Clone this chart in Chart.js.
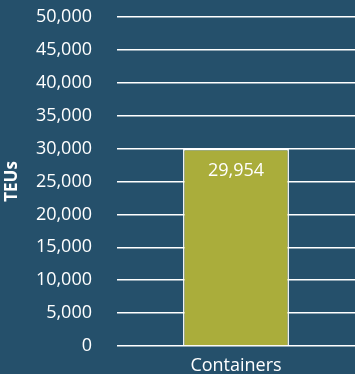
<!DOCTYPE html>
<html>
<head>
<meta charset="utf-8">
<script src="https://cdn.jsdelivr.net/npm/chart.js@4"></script>
<style>
  html, body { margin: 0; padding: 0; background: #25506b; }
  canvas { display: block; }
</style>
</head>
<body>
<canvas id="myChart" width="355" height="374"></canvas>
<script>
var categories = ["Containers"];
var teus = [29954];
var yTicks = [0, 5000, 10000, 15000, 20000, 25000, 30000, 35000, 40000, 45000, 50000];

function fmt(v) {
    return v.toLocaleString('en-US');
}

// write the value inside the top of each bar
var barLabels = {
    id: 'barLabels',
    afterDatasetsDraw: function(chart) {
        var ctx = chart.ctx;
        chart.getDatasetMeta(0).data.forEach(function(bar, i) {
            ctx.save();
            ctx.fillStyle = '#ffffff';
            ctx.font = '18px "Open Sans"';
            ctx.textAlign = 'center';
            ctx.textBaseline = 'middle';
            ctx.fillText(fmt(teus[i]), bar.x, bar.y + 22);
            ctx.restore();
        });
    }
};

var ctx = document.getElementById('myChart').getContext('2d');
var chart = new Chart(ctx, {
    type: 'bar',
    data: {
        labels: categories,
        datasets: [{
            label: "TEUs",
            backgroundColor: '#aaad3b',
            borderColor: '#ffffff',
            borderWidth: 1.5,
            barPercentage: 1,
            categoryPercentage: 0.445,
            data: teus
        }]
    },
    options: {
        responsive: false,
        animation: false,
        layout: { padding: { top: 17, right: 0, left: 0, bottom: 0 } },
        plugins: {
            legend: { display: false },
            tooltip: { enabled: false }
        },
        scales: {
            x: {
                afterFit: function(axis) {
                    axis.height = 28;
                },
                grid: { display: false, drawTicks: false },
                border: { display: false },
                ticks: {
                    color: '#ffffff',
                    font: { family: 'Open Sans', size: 18 },
                    padding: 9,
                    maxRotation: 0
                }
            },
            y: {
                min: 0,
                max: 50000,
                afterBuildTicks: function(axis) {
                    axis.ticks = yTicks.map(function(v) { return { value: v }; });
                },
                afterFit: function(axis) {
                    axis.width = 117;
                },
                grid: {
                    color: '#ffffff',
                    lineWidth: 1.5,
                    drawTicks: true,
                    tickLength: 25,
                    tickColor: 'rgba(0,0,0,0)'
                },
                border: { display: false },
                ticks: {
                    color: '#ffffff',
                    font: { family: 'Open Sans', size: 18 },
                    padding: 0,
                    callback: function(v) { return fmt(v); }
                },
                title: {
                    display: true,
                    text: 'TEUs',
                    color: '#ffffff',
                    font: { family: 'Open Sans', size: 17, weight: 'bold' },
                    padding: { top: 2, bottom: 0 }
                }
            }
        }
    },
    plugins: [barLabels]
});
</script>
</body>
</html>
